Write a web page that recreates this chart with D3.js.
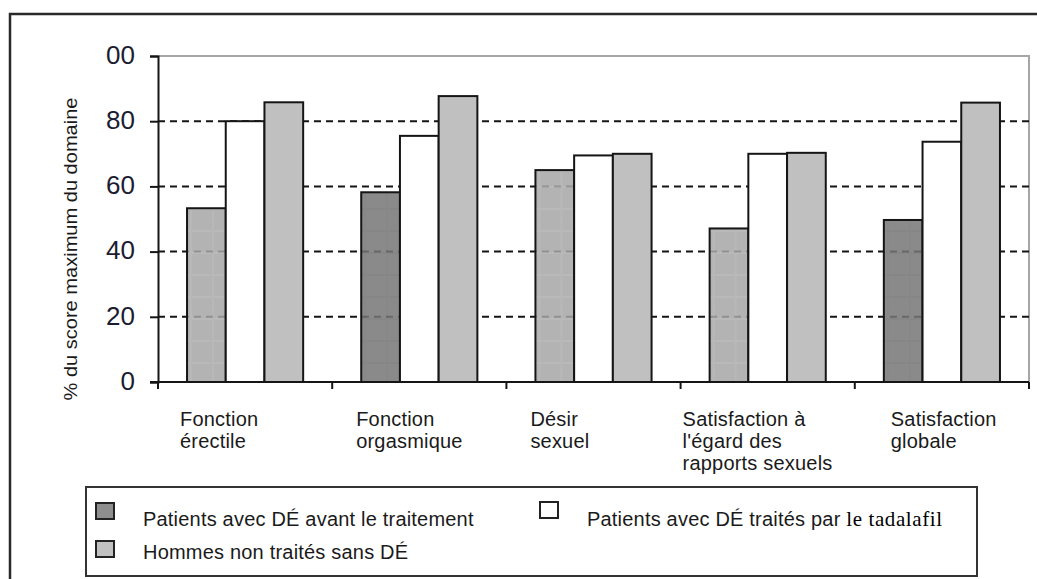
<!DOCTYPE html>
<html>
<head>
<meta charset="utf-8">
<script src="https://cdn.jsdelivr.net/npm/d3@7"></script>
<style>
  body { margin: 0; background: #fff; }
  svg { display: block; font-family: "Liberation Sans", Arial, sans-serif; }
</style>
</head>
<body>
<div id="chart"></div>
<script>
// data
const categories = ["Fonction érectile", "Fonction orgasmique", "Désir sexuel",
    "Satisfaction à l'égard des rapports sexuels", "Satisfaction globale"];
const categoryLines = [
    ["Fonction", "érectile"],
    ["Fonction", "orgasmique"],
    ["Désir", "sexuel"],
    ["Satisfaction à", "l'égard des", "rapports sexuels"],
    ["Satisfaction", "globale"]
];
const series = ["Patients avec DÉ avant le traitement",
    "Patients avec DÉ traités par le tadalafil",
    "Hommes non traités sans DÉ"];
const avantTraitement = [53.3, 58.2, 65, 47.1, 49.7];
const traitesTadalafil = [80, 75.5, 69.5, 70, 73.7];
const hommesSansDE = [85.8, 87.7, 70, 70.3, 85.7];
const yTicks = [0, 20, 40, 60, 80, 100];
const yTickLabels = ["0", "20", "40", "60", "80", "00"];
const yTitle = "% du score maximum du domaine";

const values = [avantTraitement, traitesTadalafil, hommesSansDE];

const width = 1037, height = 579;
const plot = { left: 158, right: 1029, top: 56, bottom: 382 };
const ink = "#151515";

const svg = d3.select("#chart").append("svg")
    .attr("width", width).attr("height", height);

// textures for the first series (the scan shows two shades of it)
const defs = svg.append("defs");
const tones = { light: "#a6a6a6", dark: "#767676" };
const firstTone = ["light", "dark", "light", "light", "dark"];
Object.entries(tones).forEach(([k, c]) => {
    const p = defs.append("pattern").attr("id", "tex-" + k)
        .attr("patternUnits", "userSpaceOnUse")
        .attr("width", 22).attr("height", 22);
    p.append("rect").attr("width", 22).attr("height", 22).attr("fill", c);
    p.append("rect").attr("x", 0).attr("y", 10).attr("width", 22).attr("height", 2)
        .attr("fill", d3.color(c).brighter(k === "light" ? 0.12 : -0.12));
    p.append("rect").attr("x", 10).attr("y", 0).attr("width", 2).attr("height", 22)
        .attr("fill", d3.color(c).brighter(k === "light" ? 0.1 : -0.1));
});

// outer frame (top and left edges visible)
svg.append("path")
    .attr("d", `M10,${height} L10,14 L${width},14`)
    .attr("fill", "none").attr("stroke", "#2a2a2a").attr("stroke-width", 2.5);

// scales
const y = d3.scaleLinear().domain([0, 100]).range([plot.bottom, plot.top]);
const x0 = d3.scaleBand().domain(categories).range([plot.left, plot.right]);
const x1 = d3.scaleBand().domain(series).range([0, x0.bandwidth()])
    .paddingInner(0).paddingOuter(0.75);

// plot area border (top + right, grey)
svg.append("path")
    .attr("d", `M${plot.left},${y(100)} H${plot.right} V${plot.bottom}`)
    .attr("fill", "none").attr("stroke", "#a6a6a6").attr("stroke-width", 2);

// dashed gridlines
const grid = svg.append("g");
grid.selectAll("line")
    .data(yTicks.filter(d => d > 0 && d < 100))
    .join("line")
    .attr("x1", plot.left).attr("x2", plot.right)
    .attr("y1", d => y(d)).attr("y2", d => y(d))
    .attr("stroke", ink).attr("stroke-width", 2)
    .attr("stroke-dasharray", "7,5");

// bars
const fills = [
    (d, i) => `url(#tex-${firstTone[i]})`,
    () => "#ffffff",
    () => "#c0c0c0"
];
const groups = svg.append("g").selectAll("g")
    .data(categories)
    .join("g")
    .attr("transform", d => `translate(${x0(d)},0)`);

groups.selectAll("rect")
    .data((c, ci) => series.map((s, si) => ({ s, si, ci, v: values[si][ci] })))
    .join("rect")
    .attr("x", d => x1(d.s))
    .attr("y", d => y(d.v))
    .attr("width", x1.bandwidth())
    .attr("height", d => y(0) - y(d.v))
    .attr("fill", d => fills[d.si](d, d.ci))
    .attr("fill-opacity", d => d.si === 0 ? 0.85 : 1)
    .attr("stroke", ink)
    .attr("stroke-width", 2);

// y axis
const yAxis = svg.append("g")
    .attr("transform", `translate(${plot.left},0)`)
    .call(d3.axisLeft(y).tickValues(yTicks).tickSize(8).tickPadding(15)
        .tickFormat((d, i) => yTickLabels[i]));
yAxis.select(".domain").attr("stroke", ink).attr("stroke-width", 2);
yAxis.selectAll(".tick line").attr("stroke", ink).attr("stroke-width", 2);
yAxis.selectAll(".tick text")
    .attr("font-family", "Liberation Sans, Arial, sans-serif")
    .attr("font-size", 26).attr("fill", "#1c1c30").attr("dy", "0.28em");

// x axis line and category separators
svg.append("line")
    .attr("x1", plot.left - 8).attr("x2", plot.right)
    .attr("y1", plot.bottom).attr("y2", plot.bottom)
    .attr("stroke", ink).attr("stroke-width", 2);
svg.append("g").selectAll("line")
    .data(d3.range(categories.length + 1))
    .join("line")
    .attr("x1", i => plot.left + i * x0.step())
    .attr("x2", i => plot.left + i * x0.step())
    .attr("y1", plot.bottom).attr("y2", plot.bottom + 7)
    .attr("stroke", ink).attr("stroke-width", 2);

// category labels (wrapped, left aligned)
const labelDx = [22, 24, 24, 2, 36];
const labels = svg.append("g")
    .attr("font-size", 20).attr("letter-spacing", 0.2).attr("fill", "#1a1a1a");
categories.forEach((c, i) => {
    const t = labels.append("text")
        .attr("x", x0(c) + labelDx[i]).attr("y", 426);
    t.selectAll("tspan")
        .data(categoryLines[i])
        .join("tspan")
        .attr("x", x0(c) + labelDx[i])
        .attr("dy", (d, j) => j === 0 ? 0 : 22)
        .text(d => d);
});

// y axis title
svg.append("text")
    .attr("transform", `translate(77,249) rotate(-90)`)
    .attr("text-anchor", "middle")
    .attr("font-size", 19)
    .attr("textLength", 303).attr("lengthAdjust", "spacingAndGlyphs")
    .attr("fill", "#1a1a1a")
    .text(yTitle);

// legend
svg.append("rect")
    .attr("x", 86).attr("y", 487).attr("width", 891).attr("height", 89)
    .attr("fill", "#fff").attr("stroke", "#333").attr("stroke-width", 2);

const legendPos = [
    { x: 96, y: 503, tx: 143, ty: 526 },
    { x: 540, y: 502, tx: 587, ty: 526 },
    { x: 96, y: 541, tx: 143, ty: 559 }
];
const swatchFill = ["#8e8e8e", "#ffffff", "#c0c0c0"];
const legend = svg.append("g");
series.forEach((s, i) => {
    const p = legendPos[i];
    legend.append("rect")
        .attr("x", p.x).attr("y", p.y).attr("width", 18).attr("height", 16)
        .attr("fill", swatchFill[i]).attr("stroke", "#222").attr("stroke-width", 2);
    const t = legend.append("text")
        .attr("x", p.tx).attr("y", p.ty)
        .attr("font-size", 20).attr("letter-spacing", 0.2).attr("fill", "#1a1a1a");
    if (s.endsWith("le tadalafil")) {
        t.append("tspan").text(s.replace("le tadalafil", ""));
        t.append("tspan")
            .attr("font-family", "Liberation Serif, Times New Roman, serif")
            .attr("font-size", 21).attr("letter-spacing", 0.6)
            .attr("fill", "#000")
            .text("le tadalafil");
    } else {
        t.text(s);
    }
});
</script>
</body>
</html>
